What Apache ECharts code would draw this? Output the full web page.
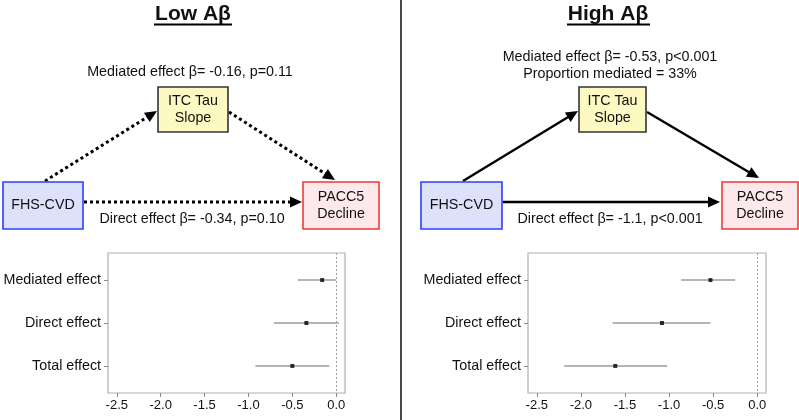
<!DOCTYPE html>
<html><head><meta charset="utf-8">
<script src="https://cdn.jsdelivr.net/npm/echarts@6/dist/echarts.min.js"></script>
<style>html,body{margin:0;padding:0;background:#fff}#c{width:799px;height:420px}</style>
</head><body><div id="c"></div>
<script>
// ---- data ----
const categories = ['Mediated effect', 'Direct effect', 'Total effect'];
const lowEstimate = [-0.16, -0.34, -0.50];
const lowLower = [-0.44, -0.71, -0.92];
const lowUpper = [0.00, 0.03, -0.08];
const highEstimate = [-0.53, -1.08, -1.61];
const highLower = [-0.86, -1.64, -2.19];
const highUpper = [-0.25, -0.53, -1.02];
const xTicks = [-2.5, -2.0, -1.5, -1.0, -0.5, 0.0];
const panelTitles = ['Low Aβ', 'High Aβ'];
const mediatedText = [['Mediated effect β= -0.16, p=0.11'], ['Mediated effect β= -0.53, p<0.001', 'Proportion mediated = 33%']];
const directText = ['Direct effect β= -0.34, p=0.10', 'Direct effect β= -1.1, p<0.001'];
const nodeLabels = ['FHS-CVD', 'ITC Tau\nSlope', 'PACC5\nDecline'];

const FONT = '"Liberation Sans", Arial, sans-serif';
const chart = echarts.init(document.getElementById('c'), null, {renderer: 'canvas'});

function ciSeries(lo, hi, xi) {
  return {
    type: 'custom', xAxisIndex: xi, yAxisIndex: xi, silent: true,
    data: lo.map((l, i) => [l, hi[i], i]),
    renderItem: (params, api) => {
      const a = api.coord([api.value(0), api.value(2)]);
      const b = api.coord([api.value(1), api.value(2)]);
      return {type: 'line', shape: {x1: a[0], y1: a[1], x2: b[0], y2: b[1]},
        style: {stroke: '#b4b4b4', lineWidth: 2}};
    },
    markLine: {silent: true, symbol: 'none', label: {show: false},
      lineStyle: {type: [2, 2], color: '#a0a0a0', width: 1},
      data: [{xAxis: 0}]}
  };
}
function ptSeries(est, xi) {
  return {type: 'scatter', xAxisIndex: xi, yAxisIndex: xi, silent: true,
    symbol: 'rect', symbolSize: 4, itemStyle: {color: '#000'},
    data: est.map((v, i) => [v, i]), z: 5};
}
function xAx(gi) {
  return {gridIndex: gi, type: 'value', min: -2.6, max: 0.1, position: 'bottom',
    axisLine: {show: false, onZero: false}, splitLine: {show: false},
    axisTick: {show: true, length: 4, customValues: xTicks, lineStyle: {color: '#888'}},
    axisLabel: {customValues: xTicks, formatter: v => v.toFixed(1), margin: 6,
      fontFamily: FONT, fontSize: 13, color: '#111'}};
}
function yAx(gi) {
  return {gridIndex: gi, type: 'value', min: -0.63, max: 2.63, inverse: true, position: 'left',
    axisLine: {show: false, onZero: false}, splitLine: {show: false},
    axisTick: {show: true, length: 4, customValues: [0, 1, 2], lineStyle: {color: '#888'}},
    axisLabel: {customValues: [0, 1, 2], formatter: v => categories[Math.round(v)], margin: 7,
      fontFamily: FONT, fontSize: 14.3, color: '#111'}};
}

// diagram helpers
const G = [];
function txt(x, y, s, size, opts) {
  G.push(Object.assign({type: 'text', x: x, y: y, silent: true,
    style: Object.assign({text: s, fontFamily: FONT, fontSize: size, fill: '#111',
      align: 'center', verticalAlign: 'middle'}, opts || {})}));
}
function box(x1, y1, x2, y2, fill, stroke, label) {
  G.push({type: 'rect', silent: true, shape: {x: x1, y: y1, width: x2 - x1, height: y2 - y1},
    style: {fill: fill, stroke: stroke, lineWidth: 1.6}});
  txt((x1 + x2) / 2, (y1 + y2) / 2, label, 14.3, {lineHeight: 17});
}
function arrow(x1, y1, x2, y2, dotted) {
  const L = Math.hypot(x2 - x1, y2 - y1), ux = (x2 - x1) / L, uy = (y2 - y1) / L;
  const hl = 12, hw = 5.5;
  const bx = x2 - ux * hl, by = y2 - uy * hl;
  G.push({type: 'line', silent: true, shape: {x1: x1, y1: y1, x2: bx + ux * 2, y2: by + uy * 2},
    style: {stroke: '#000', lineWidth: dotted ? 3 : 2.4, lineDash: dotted ? [3, 3] : null}});
  G.push({type: 'polygon', silent: true,
    shape: {points: [[x2, y2], [bx - uy * hw, by + ux * hw], [bx + uy * hw, by - ux * hw]]},
    style: {fill: '#000'}});
}

// Low panel
txt(193, 14, panelTitles[0], 21, {fontWeight: 'bold'});
G.push({type: 'line', silent: true, shape: {x1: 154, y1: 24.5, x2: 232, y2: 24.5}, style: {stroke: '#000', lineWidth: 2}});
txt(190, 72, mediatedText[0][0], 14.3);
arrow(45, 181, 157, 111, true);
arrow(229, 112, 335, 180, true);
arrow(84, 202, 302, 202, true);
box(158, 87, 228, 132, '#fcf9c2', '#333', nodeLabels[1]);
box(3, 182, 83, 229, '#dde1fa', '#2a40ff', nodeLabels[0]);
box(303, 182, 379, 229, '#fde9ec', '#ee3a3a', nodeLabels[2]);
txt(192, 219, directText[0], 14.3);

// High panel
txt(608, 14, panelTitles[1], 21, {fontWeight: 'bold'});
G.push({type: 'line', silent: true, shape: {x1: 567, y1: 24.5, x2: 650, y2: 24.5}, style: {stroke: '#000', lineWidth: 2}});
txt(610, 57, mediatedText[1][0], 14.3);
txt(610, 74, mediatedText[1][1], 14.3);
arrow(463, 181, 578, 111, false);
arrow(647, 112, 759, 178, false);
arrow(503, 202, 720, 202, false);
box(579, 87, 646, 132, '#fcf9c2', '#333', nodeLabels[1]);
box(421, 182, 502, 229, '#dde1fa', '#2a40ff', nodeLabels[0]);
box(722, 182, 798, 229, '#fde9ec', '#ee3a3a', nodeLabels[2]);
txt(610, 219, directText[1], 14.3);

// divider
G.push({type: 'rect', silent: true, shape: {x: 400, y: 0, width: 2, height: 420}, style: {fill: '#4a4a4a'}});

chart.setOption({
  animation: false,
  backgroundColor: '#fff',
  grid: [
    {left: 108, right: 799 - 345, top: 253, bottom: 420 - 393, show: true, borderColor: '#b0b0b0', borderWidth: 1.2, backgroundColor: 'transparent'},
    {left: 528, right: 799 - 766, top: 253, bottom: 420 - 393, show: true, borderColor: '#b0b0b0', borderWidth: 1.2, backgroundColor: 'transparent'}
  ],
  xAxis: [xAx(0), xAx(1)],
  yAxis: [yAx(0), yAx(1)],
  series: [
    ciSeries(lowLower, lowUpper, 0), ptSeries(lowEstimate, 0),
    ciSeries(highLower, highUpper, 1), ptSeries(highEstimate, 1)
  ],
  graphic: {elements: G}
});
</script>
</body></html>
